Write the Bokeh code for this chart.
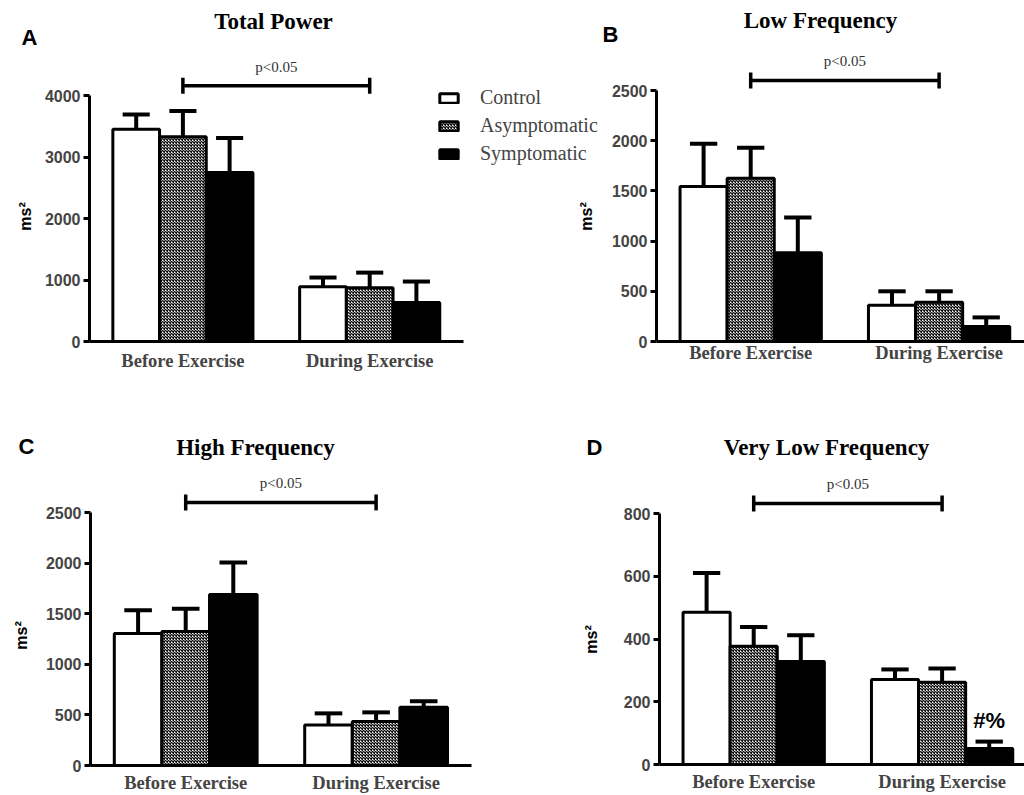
import math
from bokeh.plotting import figure
from bokeh.models import Range1d, FixedTicker, Label, Legend, LegendItem
from bokeh.layouts import column, row
from bokeh.embed import file_html
from bokeh.resources import INLINE

groups = ["Control", "Asymptomatic", "Symptomatic"]
phases = ["Before Exercise", "During Exercise"]

# A. Total Power (mean and SEM, ms^2) : [before, during]
tp_control = [3450, 890]
tp_control_sem = [240, 150]
tp_asym = [3330, 875]
tp_asym_sem = [420, 245]
tp_sym = [2750, 635]
tp_sym_sem = [560, 340]
tp_ticks = [0, 1000, 2000, 3000, 4000]

# B. Low Frequency
lf_control = [1545, 360]
lf_control_sem = [425, 140]
lf_asym = [1625, 390]
lf_asym_sem = [305, 110]
lf_sym = [885, 150]
lf_sym_sem = [350, 90]
lf_ticks = [0, 500, 1000, 1500, 2000, 2500]

# C. High Frequency
hf_control = [1305, 400]
hf_control_sem = [230, 115]
hf_asym = [1325, 435]
hf_asym_sem = [225, 90]
hf_sym = [1690, 575]
hf_sym_sem = [315, 60]
hf_ticks = [0, 500, 1000, 1500, 2000, 2500]

# D. Very Low Frequency
vlf_control = [485, 271]
vlf_control_sem = [125, 32]
vlf_asym = [377, 262]
vlf_asym_sem = [61, 44]
vlf_sym = [328, 51]
vlf_sym_sem = [84, 22]
vlf_ticks = [0, 200, 400, 600, 800]

titles = ["Total Power", "Low Frequency", "High Frequency", "Very Low Frequency"]
letters = ["A", "B", "C", "D"]
sig_text = "p<0.05"
ylabel = "ms\u00b2"
mark_text = "#%"

centers = [0, 4]

STYLES = {
    "Control": dict(fill_color="white"),
    "Asymptomatic": dict(fill_color="white", hatch_pattern="diagonal_cross",
                         hatch_scale=3, hatch_weight=1.4, hatch_color="#111111"),
    "Symptomatic": dict(fill_color="black"),
}

SERIF = "Liberation Serif"
SANS = "Liberation Sans"


def make_panel(geo, title, letter, means, sems, ticks, title_px, letter_px, ylabel_px,
               xlabel_standoff=9):
    # geo: figure width, figure height, px of y axis, px of y=0, px of top tick, px per bar
    fw, fh, fl, zero, top, bpx = geo
    upp = ticks[-1] / (zero - top)
    x0 = -2 - fl / bpx

    def X(px):
        return x0 + px / bpx

    def Y(py):
        return (zero - py) * upp

    p = figure(width=fw, height=fh, x_range=Range1d(X(0), X(fw)),
               y_range=Range1d(Y(fh), Y(0)), output_backend="svg",
               toolbar_location=None, title=None,
               min_border_left=0, min_border_right=0, min_border_top=0,
               min_border_bottom=0)
    p.outline_line_color = None
    p.background_fill_color = "white"
    p.border_fill_color = "white"
    p.xgrid.visible = False
    p.ygrid.visible = False

    rends = []
    for k, g in enumerate(groups):
        xs = [c + k - 1 for c in centers]
        r = p.vbar(x=xs, top=means[k], bottom=0, width=1, line_color="black",
                   line_width=3, **STYLES[g])
        rends.append(r)
        tops = [m + s for m, s in zip(means[k], sems[k])]
        p.segment(x0=xs, y0=means[k], x1=xs, y1=tops, line_color="black", line_width=4)
        p.segment(x0=[x - 0.29 for x in xs], y0=tops, x1=[x + 0.29 for x in xs], y1=tops,
                  line_color="black", line_width=4)

    # significance bracket between the two phases
    sig_y = ticks[-1] * 1.04
    p.segment(x0=[centers[0]], y0=[sig_y], x1=[centers[1]], y1=[sig_y],
              line_color="black", line_width=3.5)
    p.segment(x0=centers, y0=[sig_y - 8 * upp] * 2, x1=centers, y1=[sig_y + 8 * upp] * 2,
              line_color="black", line_width=3.5)
    p.add_layout(Label(x=(centers[0] + centers[1]) / 2, y=sig_y + 19 * upp, text=sig_text,
                       text_font=SERIF, text_font_size="15px", text_color="#333333",
                       text_align="center", text_baseline="middle"))

    # title, panel letter, y label
    p.add_layout(Label(x=X(title_px[0]), y=Y(title_px[1]), text=title, text_font=SERIF,
                       text_font_style="bold", text_font_size="23px", text_color="black",
                       text_align="center", text_baseline="middle"))
    p.add_layout(Label(x=X(letter_px[0]), y=Y(letter_px[1]), text=letter, text_font=SANS,
                       text_font_style="bold", text_font_size="22px", text_color="black",
                       text_align="center", text_baseline="middle"))
    if ylabel_px is not None:
        p.add_layout(Label(x=X(ylabel_px[0]), y=Y(ylabel_px[1]), text=ylabel,
                           angle=math.pi / 2, text_font=SANS, text_font_style="bold",
                           text_font_size="16px", text_color="black",
                           text_align="center", text_baseline="middle"))

    # y axis, pinned at the left end of the x axis
    ya = p.yaxis[0]
    ya.fixed_location = -2
    ya.ticker = FixedTicker(ticks=ticks)
    ya.bounds = (0, ticks[-1])
    ya.axis_line_width = 3
    ya.major_tick_line_width = 3
    ya.major_tick_out = 6
    ya.major_tick_in = 0
    ya.minor_tick_line_color = None
    ya.major_label_text_font = SANS
    ya.major_label_text_font_style = "bold"
    ya.major_label_text_font_size = "16px"
    ya.major_label_standoff = 3

    # x axis, pinned at y = 0
    xa = p.xaxis[0]
    xa.fixed_location = 0
    xa.ticker = FixedTicker(ticks=centers)
    xa.major_label_overrides = {centers[0]: phases[0], centers[1]: phases[1]}
    xa.bounds = (-2, 6)
    xa.axis_line_width = 3
    xa.major_tick_line_color = None
    xa.major_tick_out = 0
    xa.major_tick_in = 0
    xa.minor_tick_line_color = None
    xa.major_label_text_font = SERIF
    xa.major_label_text_font_style = "bold"
    xa.major_label_text_font_size = "18.5px"
    xa.major_label_standoff = xlabel_standoff
    return p, rends, X, Y, upp


pA, rA, XA, YA, uA = make_panel((601, 397, 89, 341, 95, 46.7), titles[0], letters[0],
                                [tp_control, tp_asym, tp_sym],
                                [tp_control_sem, tp_asym_sem, tp_sym_sem], tp_ticks,
                                (273, 21), (29, 37), (25, 216), xlabel_standoff=9)
pB, rB, XB, YB, uB = make_panel((423, 397, 55, 341, 90, 47.1), titles[1], letters[1],
                                [lf_control, lf_asym, lf_sym],
                                [lf_control_sem, lf_asym_sem, lf_sym_sem], lf_ticks,
                                (219, 20), (9, 34), None, xlabel_standoff=1)
pC, rC, XC, YC, uC = make_panel((512, 398, 90, 368, 115, 47.6), titles[2], letters[2],
                                [hf_control, hf_asym, hf_sym],
                                [hf_control_sem, hf_asym_sem, hf_sym_sem], hf_ticks,
                                (255, 50), (26, 49), (21, 238), xlabel_standoff=7)
pD, rD, XD, YD, uD = make_panel((512, 398, 147, 367, 116, 47.1), titles[3], letters[3],
                                [vlf_control, vlf_asym, vlf_sym],
                                [vlf_control_sem, vlf_asym_sem, vlf_sym_sem], vlf_ticks,
                                (314, 50), (82, 50), (79, 242), xlabel_standoff=7)

# y label of panel B sits in the gutter drawn by panel A
pA.add_layout(Label(x=XA(586), y=YA(216), text=ylabel, angle=math.pi / 2,
                    text_font=SANS, text_font_style="bold", text_font_size="16px",
                    text_color="black", text_align="center", text_baseline="middle"))

# "#%" marker above symptomatic during exercise (panel D)
pD.add_layout(Label(x=centers[1] + 1, y=vlf_sym[1] + vlf_sym_sem[1] + 21 * uD, text=mark_text,
                    text_font=SANS, text_font_style="bold", text_font_size="22px",
                    text_color="black", text_align="center", text_baseline="middle"))

legend = Legend(items=[LegendItem(label=g, renderers=[r]) for g, r in zip(groups, rA)],
                location=(437, 232), orientation="vertical", padding=0, margin=0,
                border_line_color=None, background_fill_alpha=0,
                glyph_width=23, glyph_height=12, label_standoff=20,
                label_text_font=SERIF, label_text_font_size="20px", label_height=23,
                spacing=5)
pA.add_layout(legend, "center")

layout = column(row(pA, pB), row(pC, pD))
open("out.html", "w").write(file_html(layout, INLINE))
